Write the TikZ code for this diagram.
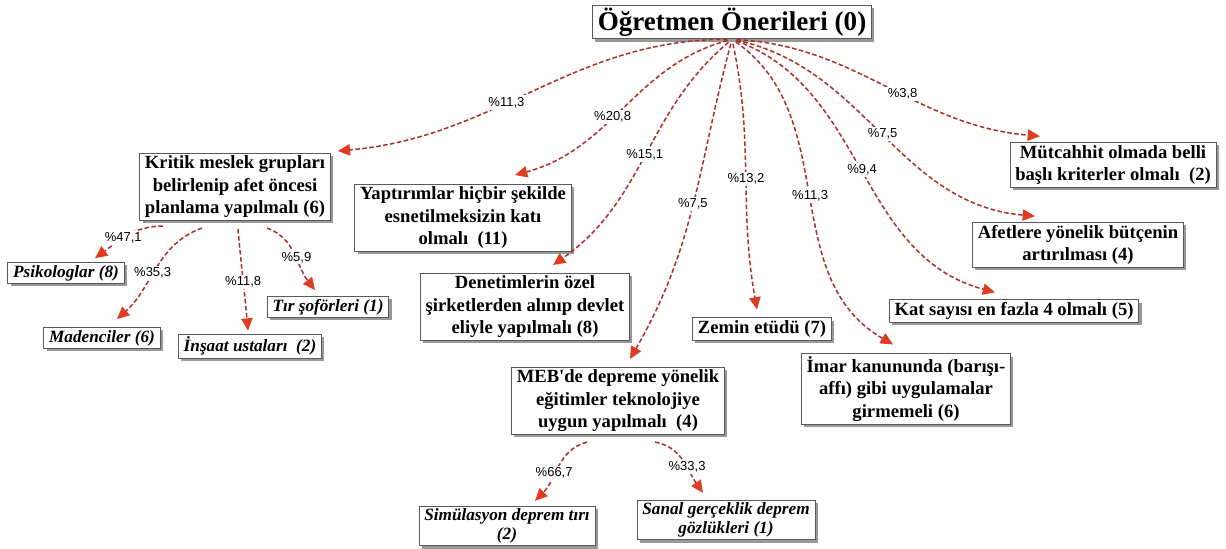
\documentclass[tikz,border=0pt]{standalone}
\usepackage{fontspec}
\setmainfont{Liberation Serif}
\newfontfamily\pctfont{Liberation Sans}
\usepackage{tikz}
\usetikzlibrary{calc}
\usetikzlibrary{arrows.meta}
\usetikzlibrary{shadows}

\definecolor{linkred}{RGB}{172,46,38}
\definecolor{tipred}{RGB}{222,60,36}
\definecolor{boxline}{RGB}{90,90,90}

\tikzset{
  box/.style={draw=boxline, line width=0.5pt, fill=white, align=center,
    inner xsep=3pt, inner ysep=1.5pt,
    drop shadow={shadow xshift=1.6pt, shadow yshift=-1.6pt, fill=black!40, opacity=1},
    font=\bfseries\fontsize{10.6}{12.8}\selectfont},
  leaf/.style={box, font=\bfseries\itshape\fontsize{9.8}{10.6}\selectfont},
  link/.style={draw=linkred, line width=0.85pt, dash pattern=on 2.6pt off 1.4pt,
    -{Triangle[length=7pt,width=6.5pt,color=tipred]}},
  pct/.style={fill=white, inner sep=1pt, font=\pctfont\fontsize{7.4}{8}\selectfont},
}

\begin{document}
\begin{tikzpicture}[x=0.02cm,y=0.02cm]
\useasboundingbox (0,0) rectangle (1226,-548);

% top
\node[box, font=\bfseries\fontsize{15.4}{18}\selectfont] (root) at (732,-22) {Öğretmen Önerileri (0)};

% first level
\node[box] (kritik) at (235,-187) {Kritik meslek grupları\\belirlenip afet öncesi\\planlama yapılmalı (6)};
\node[box] (yapt) at (463,-218) {Yaptırımlar hiçbir şekilde\\esnetilmeksizin katı\\olmalı\ \ (11)};
\node[box] (denet) at (525,-307) {Denetimlerin özel\\şirketlerden alınıp devlet\\eliyle yapılmalı (8)};
\node[box] (meb) at (618,-401) {MEB\textquotesingle de depreme yönelik\\eğitimler teknolojiye\\uygun yapılmalı\ \ (4)};
\node[box] (zemin) at (762,-329) {Zemin etüdü (7)};
\node[box] (imar) at (906,-389) {İmar kanununda (barışı-\\affı) gibi uygulamalar\\girmemeli (6)};
\node[box] (kat) at (1014,-311) {Kat sayısı en fazla 4 olmalı (5)};
\node[box] (afet) at (1078,-245) {Afetlere yönelik bütçenin\\artırılması (4)};
\node[box] (mut) at (1113,-165) {Mütcahhit olmada belli\\başlı kriterler olmalı\ \ (2)};

% second level
\node[leaf] (psik) at (66,-273) {Psikologlar (8)};
\node[leaf] (maden) at (102,-338) {Madenciler (6)};
\node[leaf] (insaat) at (250,-346) {İnşaat ustaları\ \ (2)};
\node[leaf] (tir) at (328,-307) {Tır şoförleri (1)};
\node[leaf] (simul) at (507,-526) {Simülasyon deprem tırı\\(2)};
\node[leaf] (sanal) at (726,-520) {Sanal gerçeklik deprem\\gözlükleri (1)};

% links from the top
\draw[link,shorten <=2.6pt] (root.south) to[out=180,in=5] node[pct,pos=0.58]{\%11,3} ([shift={(7,2)}]kritik.north east);
\draw[link,shorten <=2.6pt] (root.south) to[out=195,in=15] node[pct,pos=0.56]{\%20,8} ([shift={(52,9)}]yapt.north);
\draw[link,shorten <=2.6pt] (root.south) to[out=220,in=35] node[pct,pos=0.5]{\%15,1} ([shift={(28,8)}]denet.north);
\draw[link,shorten <=2.6pt] (root.south) to[out=255,in=60] node[pct,pos=0.5]{\%7,5} ([shift={(12,8)}]meb.north);
\draw[link,shorten <=2.6pt] (root.south) to[out=-78,in=100] node[pct,pos=0.52]{\%13,2} ([shift={(-5,8)}]zemin.north);
\draw[link,shorten <=2.6pt] (root.south) to[out=-35,in=150] node[pct,pos=0.5]{\%11,3} ([shift={(-13,9)}]imar.north);
\draw[link,shorten <=2.6pt] (root.south) to[out=-20,in=165] node[pct,pos=0.5]{\%9,4} ([shift={(-19,7)}]kat.north);
\draw[link,shorten <=2.6pt] (root.south) to[out=-12,in=175] node[pct,pos=0.5]{\%7,5} ([shift={(-43,6)}]afet.north);
\draw[link,shorten <=2.6pt] (root.south) to[out=-3,in=175] node[pct,pos=0.56]{\%3,8} ([shift={(-73,6)}]mut.north);

% links below kritik
\draw[link] ([shift={(-72,-5)}]kritik.south) to[out=180,in=36] node[pct,pos=0.56]{\%47,1} ([shift={(29,4)}]psik.north);
\draw[link] ([shift={(-33,-7)}]kritik.south) to[out=200,in=42] node[pct,pos=0.55]{\%35,3} ([shift={(15,8)}]maden.north);
\draw[link] ([shift={(3,-8)}]kritik.south) to[out=-85,in=95] node[pct,pos=0.52]{\%11,8} ([shift={(-2,3)}]insaat.north);
\draw[link] ([shift={(32,-7)}]kritik.south) to[out=-20,in=128] node[pct,pos=0.55]{\%5,9} ([shift={(-13,6)}]tir.north);

% links below meb
\draw[link] ([shift={(-31,-7)}]meb.south) to[out=195,in=45] node[pct,pos=0.6]{\%66,7} ([shift={(28,5)}]simul.north);
\draw[link] ([shift={(37,-7)}]meb.south) to[out=-10,in=125] node[pct,pos=0.6]{\%33,3} ([shift={(-23,7)}]sanal.north);
\end{tikzpicture}
\end{document}
